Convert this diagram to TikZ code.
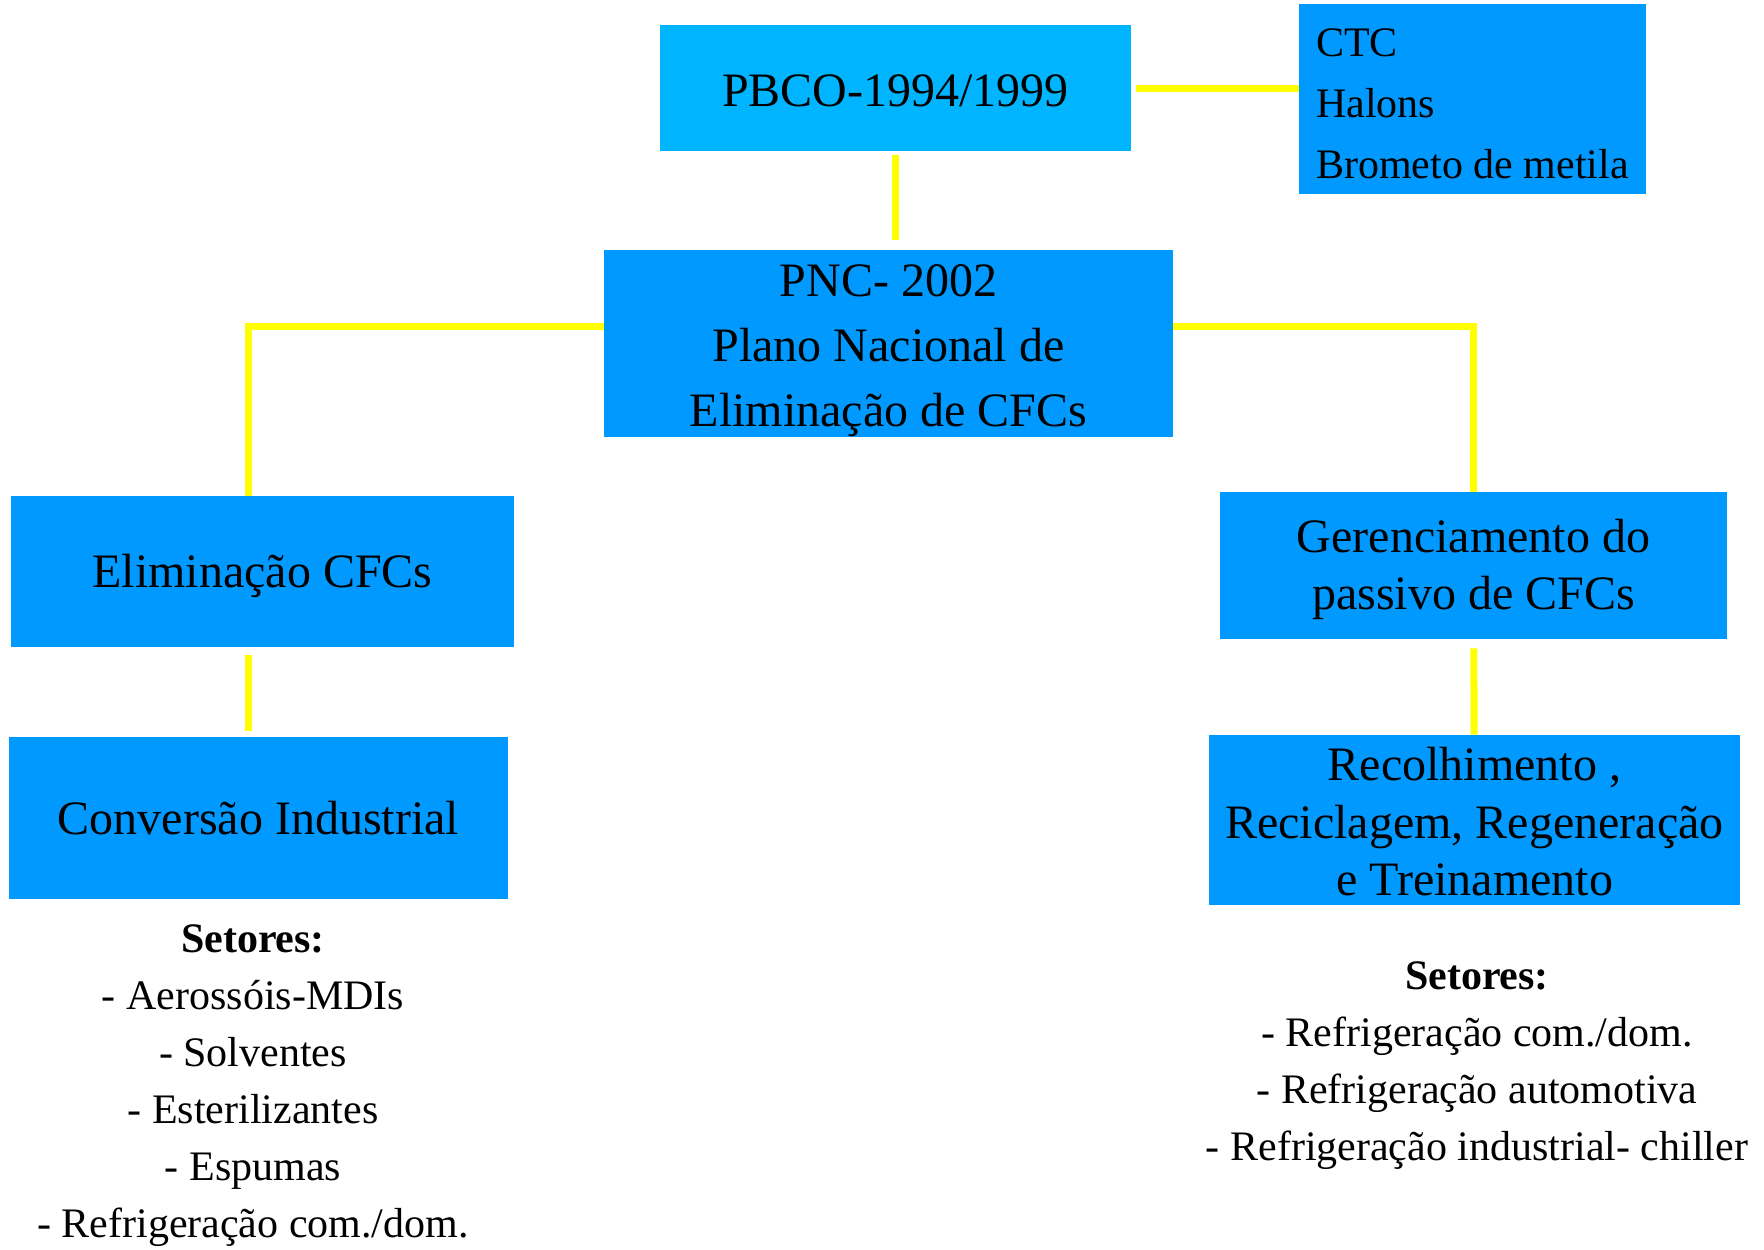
\documentclass[tikz,border=0pt]{standalone}
\usepackage{fontspec}
\setmainfont{Liberation Serif}
\definecolor{azulcaixa}{HTML}{0099FF}
\definecolor{azulclaro}{HTML}{00B4FF}
\definecolor{amarelo}{HTML}{FFFF00}
\newcommand{\alto}[1]{\rule{0pt}{#1}}

\begin{document}
\begin{tikzpicture}[x=0.5pt, y=-0.5pt,
    caixa/.style={fill=azulcaixa, inner sep=0pt, align=center, font=\fontsize{24}{28.5}\selectfont},
    lista/.style={inner sep=0pt, align=center, font=\fontsize{21}{28.5}\selectfont},
    ligacao/.style={draw=amarelo, line width=3.5pt}]
            \useasboundingbox (0,0) rectangle (1764,1249);
            \node[caixa, fill=azulclaro, minimum width=235.5pt, minimum height=63pt] (pbco) at (895.5,88) {\alto{18.7pt}PBCO-1994/1999};
            \node[caixa, align=left, minimum width=173.5pt, minimum height=95pt, font=\fontsize{21}{30.5}\selectfont] (ctc) at (1472.5,99) {\alto{18.4pt}CTC\\Halons\\Brometo de metila};
            \node[caixa, minimum width=284.5pt, minimum height=93.5pt, font=\fontsize{24}{32.5}\selectfont] (pnc) at (888.5,343.5) {\alto{23.5pt}PNC- 2002\\Plano Nacional de\\Eliminação de CFCs};
            \node[caixa, minimum width=251.5pt, minimum height=75.5pt] (elim) at (262.5,571.5) {\alto{21pt}Eliminação CFCs};
            \node[caixa, minimum width=249.5pt, minimum height=81pt] (conv) at (258.5,818) {Conversão Industrial};
            \node[caixa, minimum width=253.5pt, minimum height=73.5pt] (ger) at (1473.5,565.5) {\alto{21pt}Gerenciamento do\\passivo de CFCs};
            \node[caixa, minimum width=265.5pt, minimum height=85pt, font=\fontsize{24}{28.75}\selectfont] (rec) at (1474.5,820) {\alto{18.7pt}Recolhimento ,\\Reciclagem, Regeneração\\e Treinamento};
            \node[lista] (setesq) at (253,1085.5) {\textbf{Setores:}\\- Aerossóis-MDIs\\- Solventes\\- Esterilizantes\\- Espumas\\- Refrigeração com./dom.};
            \node[lista] (setdir) at (1477,1066) {\textbf{Setores:}\\- Refrigeração com./dom.\\- Refrigeração automotiva\\- Refrigeração industrial- chiller};
            \coordinate (junesq) at (248,326);
            \coordinate (jundir) at (1473,326);
            \draw[ligacao, shorten <=2.5pt] (pbco.east) -- (pbco.east -| ctc.west);
            \draw[ligacao, shorten <=2pt, shorten >=5pt] (pbco) -- (pbco |- pnc.north);
            \draw[ligacao] (pnc.west |- junesq) -| (elim.north -| junesq);
            \draw[ligacao] (pnc.east |- jundir) -| (ger.north);
            \draw[ligacao, shorten <=4pt, shorten >=3pt] (elim.south -| junesq) -- (conv.north -| junesq);
            \draw[ligacao, shorten <=4.5pt] (ger) -- (rec);
        \end{tikzpicture}
\end{document}
